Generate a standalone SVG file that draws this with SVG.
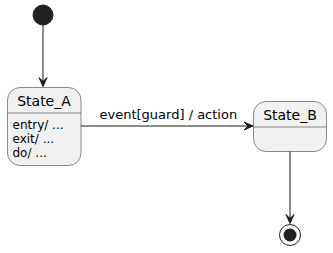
<svg xmlns="http://www.w3.org/2000/svg" width="333" height="253" viewBox="0 0 333 253">
  <defs>
    <style>
      .state { fill: #F1F1F1; stroke: #181818; stroke-width: 0.5; }
      .sep { stroke: #181818; stroke-width: 0.5; fill: none; }
      .edge { stroke: #181818; stroke-width: 1; fill: none; }
      .head { fill: #181818; stroke: #181818; stroke-width: 1; }
      .title { font-family: "DejaVu Sans", Verdana, sans-serif; font-size: 14px; fill: #000000; }
      .body { font-family: "DejaVu Sans", Verdana, sans-serif; font-size: 12px; fill: #000000; }
      .label { font-family: "DejaVu Sans", Verdana, sans-serif; font-size: 13px; fill: #000000; }
    </style>
  </defs>
  <rect width="333" height="253" fill="#FFFFFF"/>

  <g id="start">
    <circle cx="43" cy="15" r="10" fill="#222222" stroke="#222222" stroke-width="1"/>
  </g>

  <g id="State_A">
    <rect class="state" x="7.5" y="87.5" width="73.5" height="78" rx="12.5" ry="12.5"/>
    <line class="sep" x1="7.5" y1="113" x2="81" y2="113"/>
    <text class="title" x="44" y="106" text-anchor="middle">State_A</text>
    <text class="body" x="12.5" y="129">entry/ ...</text>
    <text class="body" x="12.5" y="143">exit/ ...</text>
    <text class="body" x="12.5" y="157">do/ ...</text>
  </g>

  <g id="State_B">
    <rect class="state" x="253.5" y="101.5" width="73" height="50" rx="12.5" ry="12.5"/>
    <line class="sep" x1="253.5" y1="127" x2="326.5" y2="127"/>
    <text class="title" x="290" y="120" text-anchor="middle">State_B</text>
  </g>

  <g id="end">
    <circle cx="290" cy="235" r="10.5" fill="none" stroke="#222222" stroke-width="1"/>
    <circle cx="290" cy="235" r="6.5" fill="#222222" stroke="none"/>
  </g>

  <g id="connectors">
    <path class="edge" d="M43,25 L43,81"/>
    <polygon class="head" points="43,86.5 47,77.5 43,81.5 39,77.5"/>

    <path class="edge" d="M81,126 L247,126"/>
    <polygon class="head" points="253,126 244,122 248,126 244,130"/>
    <text class="label" x="99.5" y="118.5">event[guard] / action</text>

    <path class="edge" d="M290,151.5 L290,218"/>
    <polygon class="head" points="290,223.5 294,214.5 290,218.5 286,214.5"/>
  </g>
</svg>
